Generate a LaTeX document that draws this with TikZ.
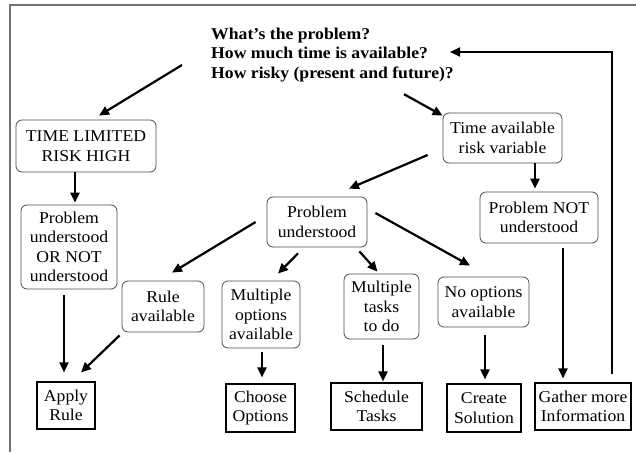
\documentclass[tikz,border=0pt]{standalone}
\usepackage{fontspec}
\setmainfont{Liberation Serif}[FakeStretch=1.07]
\usetikzlibrary{arrows.meta,calc}

\tikzset{
  rbox/.style={draw=black!70, line width=0.8pt, rounded corners=6pt, align=center,
    inner sep=0pt, font=\fontsize{16.5}{19.5}\selectfont},
  sbox/.style={draw=black, line width=1.1pt, align=center,
    inner sep=0pt, font=\fontsize{16.5}{19.5}\selectfont},
  arr/.style={line width=2.2pt, -{Triangle[length=10pt,width=9pt]}},
  frameline/.style={draw=black!55, line width=1.5pt}
}

\begin{document}
\begin{tikzpicture}[x=1pt,y=-1pt]
\useasboundingbox (0,0) rectangle (636,452);
\fill[white] (0,0) rectangle (636,452);

% page frame
\draw[frameline] (636,5) -- (10,5) -- (10,452);

% question heading
\node[anchor=west, align=left, inner sep=0pt,
      font=\bfseries\fontsize{16.5}{19.5}\selectfont] (title) at (211,55)
  {What’s the problem?\\How much time is available?\\How risky (present and future)?};

% rounded decision boxes
\node[rbox, minimum width=140pt, minimum height=52pt] (tl)  at (86,146)   {TIME LIMITED\\RISK HIGH};
\node[rbox, minimum width=96pt,  minimum height=84pt] (pu2) at (69,247)   {Problem\\understood\\OR NOT\\understood};
\node[rbox, minimum width=119pt, minimum height=50pt] (ta)  at (502.5,138){Time available\\risk variable};
\node[rbox, minimum width=118pt, minimum height=51pt] (pnu) at (539,217.5){Problem NOT\\understood};
\node[rbox, minimum width=100pt, minimum height=50pt] (pu)  at (317,222)  {Problem\\understood};
\node[rbox, minimum width=82pt,  minimum height=51pt] (ra)  at (163,306.5){Rule\\available};
\node[rbox, minimum width=78pt,  minimum height=67pt] (mo)  at (261,314.5){Multiple\\options\\available};
\node[rbox, minimum width=75pt,  minimum height=65pt] (mt)  at (381.5,306.5){Multiple\\tasks\\to do};
\node[rbox, minimum width=91pt,  minimum height=50pt] (no)  at (483.5,302){No options\\available};

% square action boxes
\node[sbox, minimum width=58pt, minimum height=47pt] (ar) at (66,405.5)  {Apply\\Rule};
\node[sbox, minimum width=69pt, minimum height=48pt] (co) at (260.5,408) {Choose\\Options};
\node[sbox, minimum width=91pt, minimum height=47pt] (st) at (376.5,406.5){Schedule\\Tasks};
\node[sbox, minimum width=74pt, minimum height=48pt] (cs) at (484,408)   {Create\\Solution};
\node[sbox, minimum width=96pt, minimum height=47pt] (gm) at (583,406.5) {Gather more\\Information};

% connectors
\draw[arr] ([shift={(-29,10)}]title.west) -- ([shift={(13,-4)}]tl.north);
\draw[arr] ([shift={(-50,12)}]title.south east) -- ([shift={(0,3)}]ta.north west);
\draw[arr] ([shift={(-15,17)}]ta.west) -- ([shift={(32,-8)}]pu.north);
\draw[arr] ($(ta.south -| pnu.north)+(-4,0)$) -- ([shift={(-4,-3)}]pnu.north);
\draw[arr] ([shift={(-11,0)}]tl.south) -- ([shift={(6,-2)}]pu2.north);
\draw[arr] ([shift={(-5,6)}]pu2.south) -- ([shift={(-2,-9)}]ar.north);
\draw[arr] ([shift={(-2,3)}]ra.south west) -- ([shift={(15,-9)}]ar.north);
\draw[arr] ([shift={(-11,0)}]pu.west) -- ([shift={(9,-8)}]ra.north);
\draw[arr] ([shift={(-19,6)}]pu.south) -- ([shift={(17,-7)}]mo.north);
\draw[arr] ([shift={(-8,4)}]pu.south east) -- ([shift={(-4,-2)}]mt.north);
\draw[arr] ([shift={(8,-9)}]pu.east) -- ([shift={(-13.5,-11)}]no.north);
\draw[arr] ([shift={(1,4)}]mo.south) -- ([shift={(1.5,-6)}]co.north);
\draw[arr] ([shift={(1.5,6)}]mt.south) -- ([shift={(6.5,-1)}]st.north);
\draw[arr] ([shift={(1.5,8)}]no.south) -- ([shift={(1,-4)}]cs.north);
\draw[arr] ([shift={(24,5)}]pnu.south) -- ([shift={(-20,-4)}]gm.north);
\draw[arr] ([shift={(29,-8)}]gm.north) |- ([shift={(-4,-3)}]title.east);
\end{tikzpicture}
\end{document}
